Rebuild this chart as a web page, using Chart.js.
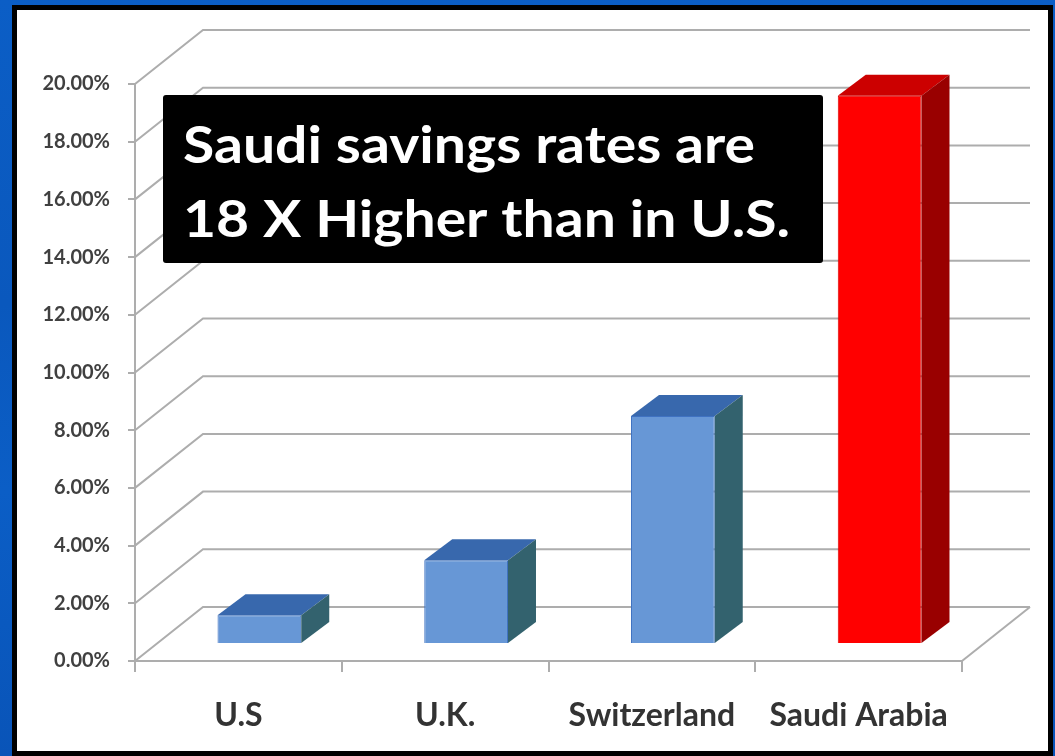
<!DOCTYPE html>
<html>
<head>
<meta charset="utf-8">
<title>Saudi savings rates</title>
<script src="https://cdn.jsdelivr.net/npm/chart.js"></script>
<style>
    html, body { margin: 0; padding: 0; }
    body {
        width: 1055px; height: 756px; overflow: hidden; position: relative;
        background: linear-gradient(180deg, #0b5ec6 0%, #0a58bd 40%, #0b5ec6 65%, #0954b8 100%);
    }
    .panel {
        position: absolute; left: 12px; top: 5px; width: 1041px; height: 751px;
        box-sizing: border-box; border: 5px solid #000; background: #fff;
    }
    .chart-box { position: absolute; left: 0; top: 0; width: 1055px; height: 756px; }
</style>
</head>
<body>
<div class="panel"></div>
<div class="chart-box"><canvas id="savingsChart"></canvas></div>

<script>
const categories = ['U.S', 'U.K.', 'Switzerland', 'Saudi Arabia'];
const savingsRates = [1.0, 2.9, 7.9, 19.0];   // percent
const yMin = 0, yMax = 20, yStep = 2;
const highlight = 'Saudi Arabia';
const noteLines = ['Saudi savings rates are', '18 X Higher than in U.S.'];

const blue = { front: '#6797d6', top: '#3868ad', side: '#33626e', edge: '#3f72c2' };
const red = { front: '#ff0000', top: '#cc0000', side: '#990000', edge: '#e00000' };
const gridColor = '#adadad';
const fontFamily = 'Lato, "Open Sans", sans-serif';

// 3D look: depth of the wall box, where bars sit inside it, and bar thickness
const wallDepth = { dx: 68, dy: -54 };
const barShift = { dx: 21, dy: -17 };
const barDepth = { dx: 28, dy: -21 };

const colorsFor = cat => cat === highlight ? red : blue;

const wallsPlugin = {
    id: 'walls',
    beforeDatasetsDraw(chart) {
        const { ctx, scales: { x, y } } = chart;
        ctx.save();
        ctx.strokeStyle = gridColor;
        ctx.lineWidth = 2;
        y.ticks.forEach(t => {
            const py = y.getPixelForValue(t.value);
            ctx.beginPath();
            ctx.moveTo(x.left, py);
            ctx.lineTo(x.left + wallDepth.dx, py + wallDepth.dy);
            ctx.lineTo(x.right + wallDepth.dx, py + wallDepth.dy);
            ctx.stroke();
        });
        ctx.beginPath();
        ctx.moveTo(x.right, y.bottom);
        ctx.lineTo(x.right + wallDepth.dx, y.bottom + wallDepth.dy);
        ctx.stroke();
        ctx.restore();

        // bars are drawn by chart.js, just pushed a bit into the box
        ctx.save();
        ctx.translate(barShift.dx, barShift.dy);
    },
    afterDatasetsDraw(chart) {
        const { ctx } = chart;
        ctx.restore();

        const meta = chart.getDatasetMeta(0);
        meta.data.forEach((bar, i) => {
            const p = bar.getProps(['x', 'y', 'base', 'width'], true);
            const c = colorsFor(categories[i]);
            const left = p.x - p.width / 2 + barShift.dx;
            const right = p.x + p.width / 2 + barShift.dx;
            const top = p.y + barShift.dy;
            const bottom = p.base + barShift.dy;
            const { dx, dy } = barDepth;

            ctx.save();
            ctx.lineJoin = 'round';
            ctx.fillStyle = c.top;
            ctx.beginPath();
            ctx.moveTo(left, top);
            ctx.lineTo(left + dx, top + dy);
            ctx.lineTo(right + dx, top + dy);
            ctx.lineTo(right, top);
            ctx.closePath();
            ctx.fill();

            ctx.fillStyle = c.side;
            ctx.beginPath();
            ctx.moveTo(right, top);
            ctx.lineTo(right + dx, top + dy);
            ctx.lineTo(right + dx, bottom + dy);
            ctx.lineTo(right, bottom);
            ctx.closePath();
            ctx.fill();
            ctx.restore();
        });
    }
};

const notePlugin = {
    id: 'note',
    afterDraw(chart) {
        const { ctx } = chart;
        const box = { x: 163, y: 95, w: 660, h: 168 };
        ctx.save();
        ctx.fillStyle = '#000';
        ctx.beginPath();
        ctx.roundRect(box.x, box.y, box.w, box.h, 3);
        ctx.fill();

        ctx.font = `bold 52px ${fontFamily}`;
        ctx.fillStyle = '#fff';
        ctx.textBaseline = 'alphabetic';
        const scaleX = 572 / ctx.measureText(noteLines[0]).width;
        noteLines.forEach((line, i) => {
            ctx.save();
            ctx.translate(box.x + 20, box.y + 68 + i * 74);
            ctx.scale(scaleX, 1);
            ctx.fillText(line, 0, 0);
            ctx.restore();
        });
        ctx.restore();
    }
};

const ctx = document.getElementById('savingsChart').getContext('2d');
const savingsChart = new Chart(ctx, {
    type: 'bar',
    data: {
        labels: categories,
        datasets: [{
            data: savingsRates,
            backgroundColor: categories.map(c => colorsFor(c).front),
            borderColor: categories.map(c => colorsFor(c).edge),
            borderWidth: 1,
            categoryPercentage: 1,
            barPercentage: 0.405,
            clip: false
        }]
    },
    options: {
        responsive: true,
        maintainAspectRatio: false,
        animation: false,
        layout: { padding: { top: 84, right: 93, bottom: 0, left: 0 } },
        plugins: {
            legend: { display: false },
            tooltip: { enabled: false }
        },
        scales: {
            x: {
                grid: { offset: true, drawOnChartArea: false, tickLength: 11, color: gridColor, lineWidth: 2 },
                border: { color: gridColor, width: 2 },
                ticks: { color: '#333', padding: 24, font: { family: fontFamily, weight: 'bold', size: 32 } },
                afterFit: s => { s.height = 95; }
            },
            y: {
                min: yMin,
                max: yMax,
                grid: { drawOnChartArea: false, tickLength: 7, color: gridColor, lineWidth: 2 },
                border: { color: gridColor, width: 2 },
                ticks: {
                    stepSize: yStep,
                    padding: 18,
                    color: '#404040',
                    font: { family: fontFamily, weight: 'bold', size: 20 },
                    callback: v => v.toFixed(2) + '%'
                },
                afterFit: s => { s.width = 135; }
            }
        }
    },
    plugins: [wallsPlugin, notePlugin]
});
</script>
</body>
</html>
